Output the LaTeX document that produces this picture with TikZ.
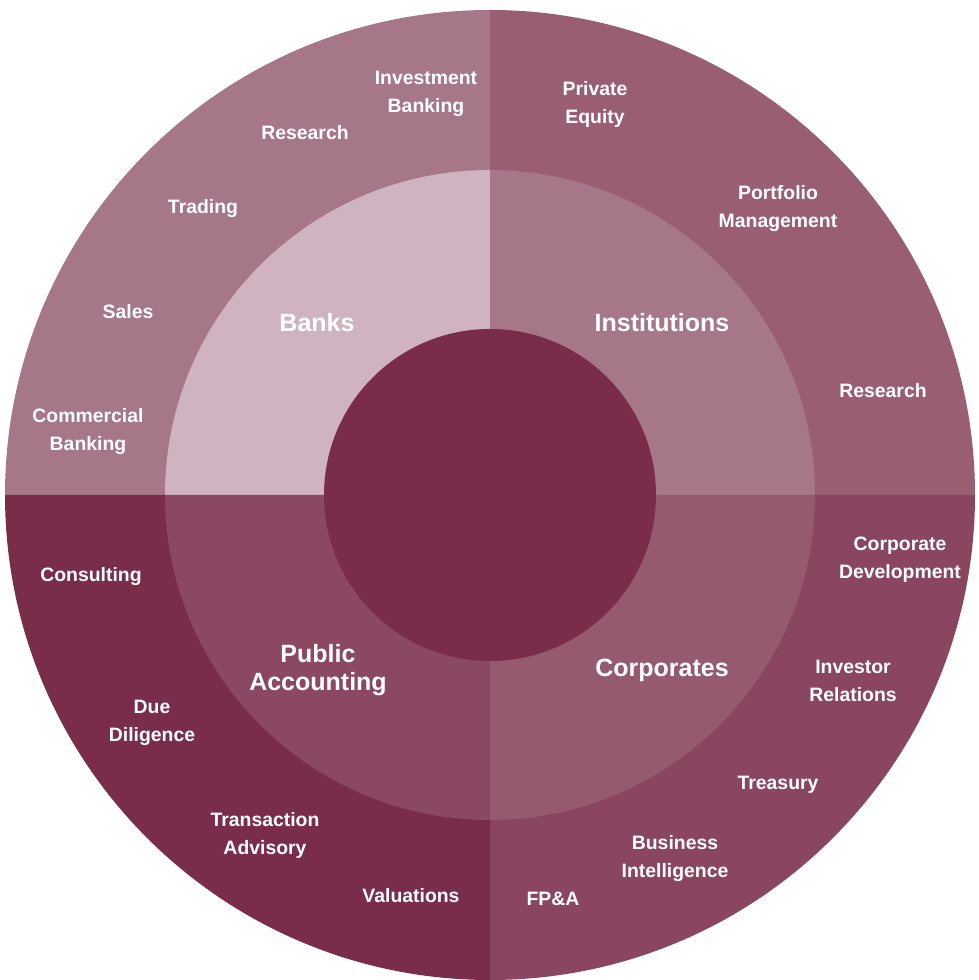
\documentclass[tikz,border=0pt]{standalone}
\usepackage{fontspec}
\setmainfont{Liberation Sans}
\definecolor{banksOut}{HTML}{A67788}
\definecolor{banksIn}{HTML}{D0B3C0}
\definecolor{instOut}{HTML}{9A5E73}
\definecolor{instIn}{HTML}{A67788}
\definecolor{corpOut}{HTML}{8A4560}
\definecolor{corpIn}{HTML}{955A70}
\definecolor{pubOut}{HTML}{7A2D4B}
\definecolor{pubIn}{HTML}{8B4862}
\definecolor{coreC}{HTML}{7A2D4B}
\begin{document}
\begin{tikzpicture}[x=1pt,y=1pt,
  sub/.style={text=white,font=\bfseries\fontsize{19.4}{28}\selectfont,align=center,inner sep=0pt},
  cat/.style={text=white,font=\bfseries\fontsize{25}{28}\selectfont,align=center,inner sep=0pt}]
\useasboundingbox (0,0) rectangle (979,980);
\coordinate (O) at (490,485);
% outer ring
\fill[banksOut] (O) -- ++(180:485) arc[start angle=180,end angle=90,radius=485] -- cycle;
\fill[instOut] (O) -- ++(90:485) arc[start angle=90,end angle=0,radius=485] -- cycle;
\fill[corpOut] (O) -- ++(0:485) arc[start angle=0,end angle=-90,radius=485] -- cycle;
\fill[pubOut] (O) -- ++(-90:485) arc[start angle=270,end angle=180,radius=485] -- cycle;
% middle ring
\fill[banksIn] (O) -- ++(180:325) arc[start angle=180,end angle=90,radius=325] -- cycle;
\fill[instIn] (O) -- ++(90:325) arc[start angle=90,end angle=0,radius=325] -- cycle;
\fill[corpIn] (O) -- ++(0:325) arc[start angle=0,end angle=-90,radius=325] -- cycle;
\fill[pubIn] (O) -- ++(-90:325) arc[start angle=270,end angle=180,radius=325] -- cycle;
% core
\fill[coreC] (O) circle[radius=166];
% category labels
\node[cat] (banks) at (317,657) {Banks};
\node[cat] (inst) at (662,657) {Institutions};
\node[cat] (corp) at (662,310) {Corporates};
\node[cat] (pub) at (318,310) {Public\\Accounting};
% Banks
\node[sub] (ib) at (426,886) {Investment\\Banking};
\node[sub] (res1) at (305,847) {Research};
\node[sub] (trad) at (203,771) {Trading};
\node[sub] (sales) at (128,668) {Sales};
\node[sub] (cb) at (88,548) {Commercial\\Banking};
% Institutions
\node[sub] (pe) at (595,876) {Private\\Equity};
\node[sub] (pm) at (778,771) {Portfolio\\Management};
\node[sub] (res2) at (883,589) {Research};
% Corporates
\node[sub] (cd) at (900,420) {Corporate\\Development};
\node[sub] (ir) at (853,299) {Investor\\Relations};
\node[sub] (tre) at (778,195) {Treasury};
\node[sub] (bi) at (675,121) {Business\\Intelligence};
\node[sub] (fpa) at (553,81) {FP\&A};
% Public Accounting
\node[sub] (cons) at (91,403) {Consulting};
\node[sub] (dd) at (152,257) {Due\\Diligence};
\node[sub] (ta) at (265,145) {Transaction\\Advisory};
\node[sub] (val) at (411,84) {Valuations};
\end{tikzpicture}
\end{document}
